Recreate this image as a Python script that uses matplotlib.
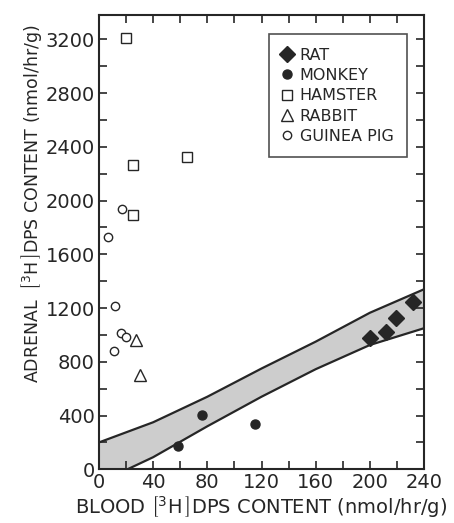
import matplotlib
matplotlib.use('Agg')
import matplotlib.pyplot as plt
from matplotlib.ticker import MultipleLocator

# Data
rat_x = [200, 212, 219, 232]
rat_y = [975, 1024, 1124, 1248]
monkey_x = [58, 76, 115]
monkey_y = [174, 404, 337]
hamster_x = [20, 25, 65, 25]
hamster_y = [3210, 2265, 2322, 1893]
rabbit_x = [27, 30]
rabbit_y = [962, 700]
guinea_x = [7, 17, 12, 16, 20, 11]
guinea_y = [1727, 1935, 1218, 1017, 987, 881]

# confidence band edges
band_x = [0, 40, 80, 120, 160, 200, 240]
band_upper = [200, 350, 540, 750, 950, 1165, 1340]
band_lower = [-100, 90, 320, 540, 745, 925, 1050]

ink = '#262626'
plt.rcParams['font.family'] = 'DejaVu Sans'
plt.rcParams['mathtext.default'] = 'regular'

fig = plt.figure(figsize=(4.54, 5.23), dpi=100)
ax = fig.add_axes([0.218, 0.1027, 0.716, 0.8683])

ax.fill_between(band_x, band_lower, band_upper, facecolor='#cdcdcd', edgecolor='none', zorder=1)
ax.plot(band_x, band_upper, color=ink, lw=1.6, zorder=2)
ax.plot(band_x, band_lower, color=ink, lw=1.6, zorder=2)

ax.plot(rat_x, rat_y, 'D', ms=8, color=ink, mec=ink, label='RAT', zorder=3)
ax.plot(monkey_x, monkey_y, 'o', ms=6.5, color=ink, mec=ink, label='MONKEY', zorder=3)
ax.plot(hamster_x, hamster_y, 's', ms=7, mfc='white', mec=ink, mew=1.0, label='HAMSTER', zorder=3)
ax.plot(rabbit_x, rabbit_y, '^', ms=8, mfc='white', mec=ink, mew=1.0, label='RABBIT', zorder=3)
ax.plot(guinea_x, guinea_y, 'o', ms=6, mfc='white', mec=ink, mew=1.0, label='GUINEA PIG', zorder=3)

ax.set_xlim(0, 240)
ax.set_ylim(0, 3380)
ax.xaxis.set_major_locator(MultipleLocator(40))
ax.xaxis.set_minor_locator(MultipleLocator(20))
ax.yaxis.set_major_locator(MultipleLocator(400))
ax.yaxis.set_minor_locator(MultipleLocator(200))
ax.tick_params(which='both', direction='in', top=True, right=True, length=6, width=1.2,
               color=ink, labelcolor=ink, labelsize=14, pad=3)
for s in ax.spines.values():
    s.set_linewidth(1.5)
    s.set_color(ink)

tall = r'$\left[^{3}\mathrm{H}_{\,}\right]$'
plain = r'$[^{3}\mathrm{H}]$'
xl = ax.set_xlabel('BLOOD ' + tall + 'DPS CONTENT (nmol/hr/g)', fontsize=14, color=ink, labelpad=1)
yl = ax.set_ylabel('ADRENAL  ' + tall + 'DPS CONTENT (nmol/hr/g)', fontsize=12.5, color=ink)
ax.yaxis.set_label_coords(-0.17, 0.585)
try:
    fig.canvas.draw()
except Exception:
    xl.set_text('BLOOD ' + plain + 'DPS CONTENT (nmol/hr/g)')
    yl.set_text('ADRENAL  ' + plain + 'DPS CONTENT (nmol/hr/g)')

leg = ax.legend(loc='upper right', bbox_to_anchor=(0.948, 0.958), fontsize=11.5, frameon=True,
                fancybox=False, handlelength=0.6, handletextpad=0.5, borderpad=0.85,
                labelspacing=0.33, borderaxespad=0)
leg.get_frame().set_edgecolor(ink)
leg.get_frame().set_linewidth(1.2)
for t in leg.get_texts():
    t.set_color(ink)

fig.savefig('out.png', dpi=100)
